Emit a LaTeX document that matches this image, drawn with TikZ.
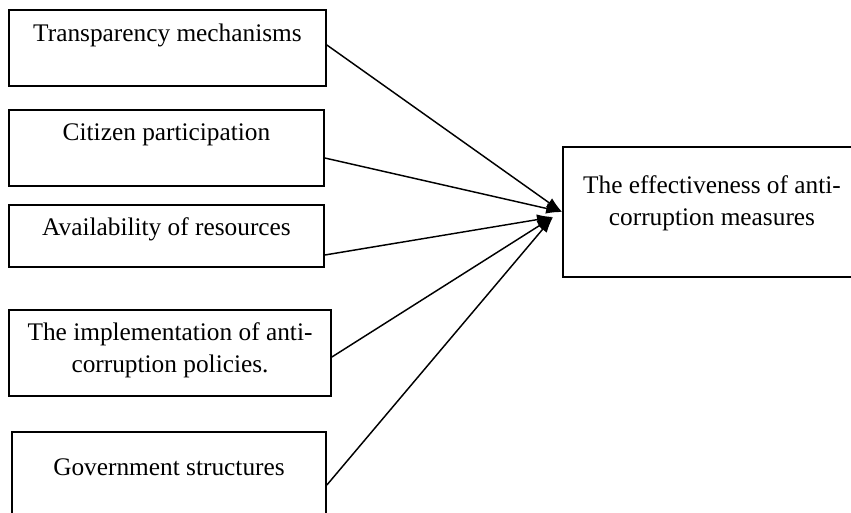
\documentclass[tikz,border=0pt]{standalone}
\usepackage{fontspec}
\setmainfont{Liberation Serif}
\usetikzlibrary{arrows.meta,fit}
\begin{document}
\begin{tikzpicture}[x=0.75pt,y=-0.75pt,
  box/.style={draw=black, line width=1.3pt, inner sep=0pt},
  lbl/.style={font=\fontsize{19}{24}\selectfont, align=center, inner sep=0pt},
  arr/.style={line width=1.1pt, -{Latex[length=12pt,width=8pt]}}]
\useasboundingbox (0,0) rectangle (851,512);
\clip (0,0) rectangle (851,512);
% left boxes
\node[box, fit={(9,10)(326,86)}] (b1) {};
\node[lbl] (l1) at (167.5,35) {Transparency mechanisms};
\node[box, fit={(9,110)(324,186)}] (b2) {};
\node[lbl] (l2) at (166.5,135) {Citizen participation};
\node[box, fit={(9,205)(324,267)}] (b3) {};
\node[lbl] (l3) at (166.5,229) {Availability of resources};
\node[box, fit={(9,310)(331,396)}] (b4) {};
\node[lbl] (l4) at (170,350.5) {The implementation of anti-\\corruption policies.};
\node[box, fit={(12,432)(326,525)}] (b5) {};
\node[lbl] (l5) at (169,467) {Government structures};
% target box
\node[box, fit={(563,147)(861,277)}] (tgt) {};
\node[lbl] (lt) at (712,203.5) {The effectiveness of anti-\\corruption measures};
% connectors
\coordinate (s1) at (b1.east |- 0,45);
\coordinate (s2) at (b2.east |- 0,158);
\coordinate (s3) at (b3.east |- 0,255);
\coordinate (s4) at (b4.east |- 0,357);
\coordinate (s5) at (b5.east |- 0,485);
\coordinate (tin) at (553,217);
\draw[arr] (s1) -- (tgt.west);
\draw[arr] (s2) -- (tgt.west);
\draw[arr] (s3) -- (tin);
\draw[arr] (s4) -- (tin);
\draw[arr] (s5) -- (tin);
\end{tikzpicture}
\end{document}
